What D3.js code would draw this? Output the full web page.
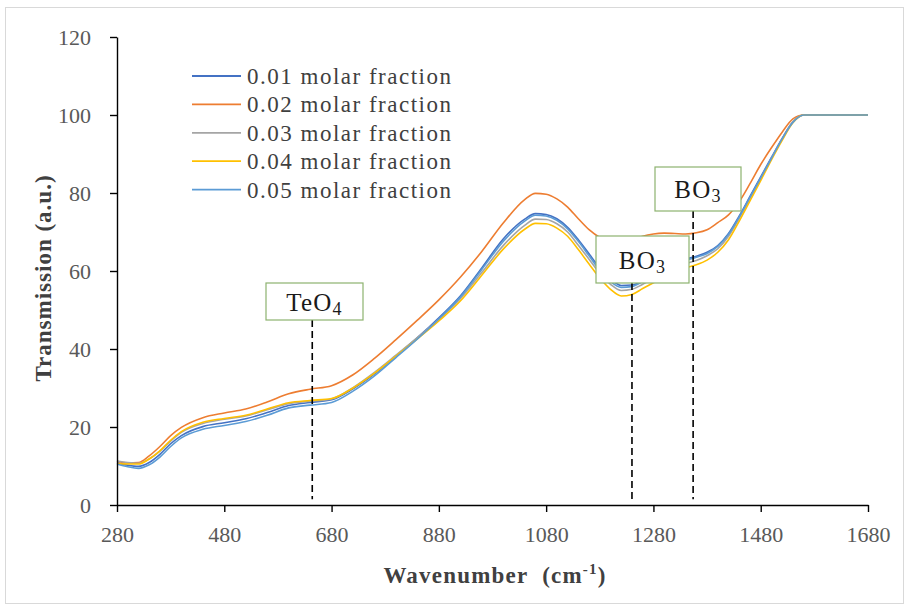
<!DOCTYPE html>
<html>
<head>
<meta charset="utf-8">
<script src="https://cdn.jsdelivr.net/npm/d3@7"></script>
<style>
  body { margin: 0; background: #fff; }
  text { font-family: "Liberation Serif", "Times New Roman", serif; }
</style>
</head>
<body>
<svg id="chart" width="908" height="611"></svg>
<script>
// FTIR transmission spectra of the glass series
const wavenumbers = [280,300,320,340,360,380,400,440,480,520,560,600,640,680,720,760,800,840,880,920,960,1000,1040,
  1060,1080,1100,1120,1140,1160,1180,1200,1220,1240,1260,1280,1300,1320,1340,1360,1380,1400,1420,1440,1460,1480,1500,1520,1540,1560,
  1600,1640,1680];

const frac001 = [10.8,10.2,9.9,10.9,13.0,15.7,17.8,20.1,21.1,22.1,23.7,25.5,26.3,27.0,29.8,33.6,38.2,42.9,48.0,53.6,60.8,68.2,73.3,
  74.7,74.5,73.4,71.2,68.0,64.4,60.8,57.9,56.3,56.4,57.6,59.1,60.6,61.9,63.0,63.8,64.8,66.5,69.6,74.1,79.1,84.1,89.1,94.0,98.2,100,
  100,100,100];
const frac002 = [11.2,10.8,10.9,12.6,15.0,17.8,19.9,22.4,23.6,24.6,26.4,28.5,29.7,30.6,33.4,37.6,42.4,47.4,52.6,58.4,65.0,72.3,78.3,
  79.9,79.7,78.5,76.4,73.4,70.6,68.6,67.4,67.1,67.8,68.9,69.5,69.7,69.6,69.5,69.8,70.6,72.4,74.4,77.8,82.4,87.3,91.6,95.6,99.0,100,
  100,100,100];
const frac003 = [11.3,10.9,10.7,11.8,13.8,16.4,18.6,20.9,22.0,22.8,24.4,26.0,26.6,27.2,30.1,34.0,38.4,42.9,47.6,52.9,59.6,66.5,71.7,
  73.3,73.2,72.1,70.0,66.6,63.0,59.4,56.6,55.0,55.3,56.6,58.1,59.6,60.9,61.9,62.7,63.9,65.7,68.9,73.5,78.6,83.7,88.9,93.9,98.3,100,
  100,100,100];
const frac004 = [10.6,10.5,10.5,11.8,13.9,16.6,18.8,21.2,22.2,23.0,24.6,26.2,26.8,27.3,30.0,33.8,38.2,42.6,47.2,52.3,58.9,65.6,70.7,
  72.2,72.1,71.0,68.9,65.5,61.8,58.2,55.3,53.6,54.0,55.5,57.0,58.5,59.8,60.8,61.6,62.8,64.8,68.0,72.8,78.0,83.2,88.5,93.5,98.0,100,
  100,100,100];
const frac005 = [10.5,9.8,9.4,10.3,12.3,15.0,17.2,19.4,20.4,21.4,23.0,24.9,25.6,26.3,29.2,33.1,37.8,42.6,47.7,53.3,60.4,67.6,72.8,
  74.3,74.1,73.0,70.8,67.6,63.9,60.2,57.3,55.8,56.0,57.3,58.8,60.3,61.6,62.7,63.5,64.5,66.3,69.4,73.9,78.9,83.9,88.9,93.9,98.1,100,
  100,100,100];

const seriesNames = ["0.01 molar fraction","0.02 molar fraction","0.03 molar fraction","0.04 molar fraction","0.05 molar fraction"];
const seriesValues = [frac001, frac002, frac003, frac004, frac005];
const seriesColors = ["#4472C4","#ED7D31","#A5A5A5","#FFC000","#5B9BD5"];

const xTicks = [280,480,680,880,1080,1280,1480,1680];
const yTicks = [0,20,40,60,80,100,120];

// Band assignments: label, subscript, band position (cm-1)
const bandLabels = ["TeO","BO","BO"];
const bandSubs = ["4","3","3"];
const bandPositions = [644,1240,1354];

// Label box geometry (pixels): centre x, top, width, height
const bandBoxes = [
  {cx: 314.5, top: 283, w: 97, h: 37},
  {cx: 642.5, top: 236, w: 93, h: 47},
  {cx: 698,   top: 167, w: 86, h: 44}
];

const svg = d3.select("#chart");

// light outer frame
svg.append("rect").attr("x",5.5).attr("y",7.5).attr("width",898).attr("height",596)
  .attr("fill","#fff").attr("stroke","#d9d9d9").attr("stroke-width",1);

const x = d3.scaleLinear().domain([280,1680]).range([117,868]);
const y = d3.scaleLinear().domain([0,120]).range([505,37]);

// curves
const line = d3.line()
  .x((d,i) => x(wavenumbers[i]))
  .y(d => y(d))
  .curve(d3.curveMonotoneX);

svg.append("g").selectAll("path")
  .data(seriesValues)
  .join("path")
  .attr("d", d => line(d))
  .attr("fill","none")
  .attr("stroke",(d,i) => seriesColors[i])
  .attr("stroke-width",1.6)
  .attr("stroke-linejoin","round");

// axes
const xAxis = svg.append("g").attr("transform","translate(0,505)")
  .call(d3.axisBottom(x).tickValues(xTicks).tickFormat(d3.format("d")).tickSize(7).tickSizeOuter(0).tickPadding(14));
const yAxis = svg.append("g").attr("transform","translate(117,0)")
  .call(d3.axisLeft(y).tickValues(yTicks).tickSize(7).tickSizeOuter(0).tickPadding(19));

[xAxis, yAxis].forEach(g => {
  g.select(".domain").attr("stroke","#000").attr("stroke-width",1.4);
  g.selectAll(".tick line").attr("stroke","#000").attr("stroke-width",1.4);
  g.selectAll(".tick text").attr("fill","#595959")
    .style("font-family","'Liberation Serif', serif").style("font-size","22px");
});

// band markers: dashed lines and boxed labels
bandPositions.forEach((wn, i) => {
  const b = bandBoxes[i];
  svg.append("line")
    .attr("x1", x(wn)).attr("x2", x(wn))
    .attr("y1", b.top + b.h).attr("y2", y(1.5))
    .attr("stroke","#000").attr("stroke-width",1.6).attr("stroke-dasharray","7,4");
});
bandPositions.forEach((wn, i) => {
  const b = bandBoxes[i];
  svg.append("rect")
    .attr("x", b.cx - b.w/2).attr("y", b.top).attr("width", b.w).attr("height", b.h)
    .attr("fill","#fff").attr("stroke","#8DB26F").attr("stroke-width",1.2);
  const t = svg.append("text")
    .attr("x", b.cx).attr("y", b.top + b.h/2 + 9)
    .attr("text-anchor","middle").attr("fill","#1a1a1a")
    .style("font-size","25px").style("letter-spacing","1.2px");
  t.append("tspan").text(bandLabels[i]);
  t.append("tspan").attr("dy",4).style("font-size","18px").text(bandSubs[i]);
});

// legend
const legend = svg.append("g");
seriesNames.forEach((name, i) => {
  const ly = 76 + i * 28.4;
  legend.append("line").attr("x1",192).attr("x2",241).attr("y1",ly).attr("y2",ly)
    .attr("stroke",seriesColors[i]).attr("stroke-width",1.8);
  legend.append("text").attr("x",247).attr("y",ly + 8)
    .attr("fill","#404040").style("font-size","23px").style("letter-spacing","1.5px")
    .text(name);
});

// axis titles
svg.append("text")
  .attr("transform","translate(51,278) rotate(-90)")
  .attr("text-anchor","middle").attr("fill","#404040")
  .style("font-size","23px").style("font-weight","bold").style("letter-spacing","1px")
  .text("Transmission (a.u.)");

const xt = svg.append("text")
  .attr("x",495).attr("y",583)
  .attr("text-anchor","middle").attr("fill","#404040")
  .style("font-size","23px").style("font-weight","bold").style("letter-spacing","1.2px");
xt.append("tspan").text("Wavenumber\u00A0\u00A0(cm");
xt.append("tspan").attr("dy",-9).style("font-size","15px").text("-1");
xt.append("tspan").attr("dy",9).text(")");
</script>
</body>
</html>
